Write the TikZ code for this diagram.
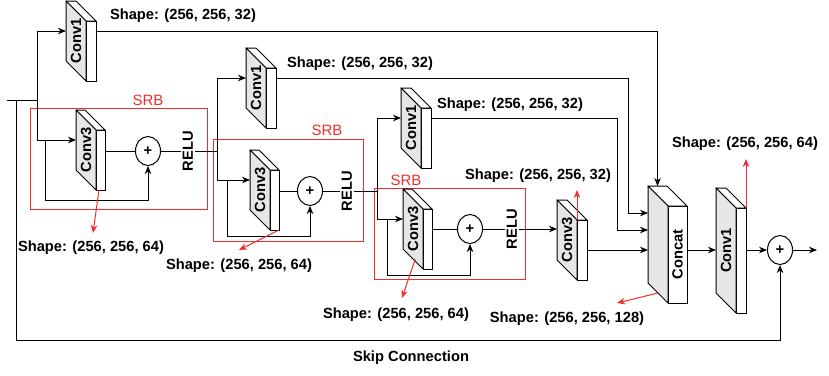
\documentclass[tikz,border=0pt]{standalone}
\usepackage{fontspec}
\setmainfont{Liberation Sans}
\usepackage{xcolor}
\usepackage{tikz}
\usetikzlibrary{arrows.meta, positioning, calc, shapes.geometric}

\definecolor{srbred}{RGB}{238,45,45}
\definecolor{facegray}{RGB}{230,230,230}

% 3d layer: #1 name, #2 back corner, #3 width, #4 height
\newcommand{\layerblock}[4]{%
  \node[backface, minimum width=#3, minimum height=#4] (#1-b) at #2 {};
  \node[frontface, minimum width=#3, minimum height=#4] (#1) at ($(#1-b.north west)+(20,20)$) {};
  \filldraw[topface] (#1-b.north west) -- (#1-b.north east) -- (#1.north east) -- (#1.north west) -- cycle;
  \filldraw[sideface] (#1-b.north west) -- (#1.north west) -- (#1.south west) -- (#1-b.south west) -- cycle;
  \coordinate (#1-side) at ($(#1-b.west)!0.5!(#1.west)$);
}

\begin{document}
\begin{tikzpicture}[x=1pt, y=-1pt,
    every node/.style={font=\fontsize{14.7}{17}\selectfont\bfseries},
    line/.style={line width=1pt},
    arr/.style={line, -{Stealth[length=8pt, width=6.5pt, inset=2.5pt]}},
    redarr/.style={arr, srbred},
    backface/.style={anchor=north west, inner sep=0pt, outer sep=0pt},
    frontface/.style={anchor=north west, draw, line width=1pt, fill=white, inner sep=0pt, outer sep=0pt},
    sideface/.style={line width=1pt, fill=facegray, line join=round},
    topface/.style={line width=1pt, fill=white, line join=round},
    layertext/.style={rotate=90, inner sep=0pt},
    plus/.style={ellipse, draw, line width=1pt, fill=white, minimum width=25pt, minimum height=29pt, inner sep=0pt},
    relu/.style={rotate=90, inner sep=1.5pt},
    shapelbl/.style={inner sep=1pt},
    srbbox/.style={draw=srbred, line width=1pt},
    srblbl/.style={text=srbred, font=\fontsize{15}{17}\selectfont}
]
\useasboundingbox (0,0) rectangle (829,375);

% residual blocks
\draw[srbbox] (30,108) rectangle (207,209);
\draw[srbbox] (213,139) rectangle (363,241);
\draw[srbbox] (374,188) rectangle (525,279);
\node[srblbl] (srb1) at (148,100) {SRB};
\node[srblbl] (srb2) at (327,130) {SRB};
\node[srblbl] (srb3) at (406,180) {SRB};

% layers
\layerblock{A}{(66,1)}{10}{60}
\layerblock{B}{(76,110)}{9}{60}
\layerblock{C1}{(246,48)}{10}{60}
\layerblock{C}{(250,150)}{9}{60}
\layerblock{D}{(401,88)}{10}{60}
\layerblock{E}{(403,189)}{9}{60}
\layerblock{F}{(557,200)}{10}{60}
\layerblock{Cc}{(648,186)}{19}{97}
\layerblock{G}{(716,188)}{10}{105}

\node[layertext] (A-t) at (A-side) {Conv1};
\node[layertext] (B-t) at (B-side) {Conv3};
\node[layertext] (C1-t) at (C1-side) {Conv1};
\node[layertext] (C-t) at (C-side) {Conv3};
\node[layertext] (D-t) at (D-side) {Conv1};
\node[layertext] (E-t) at (E-side) {Conv3};
\node[layertext] (F-t) at (F-side) {Conv3};
\node[layertext] (Cc-t) at (Cc.center) {Concat};
\node[layertext] (G-t) at (G-side) {Conv1};

% adders and activations
\node[plus] (P1) at (148,151) {+};
\node[plus] (P2) at (310,191) {+};
\node[plus] (P3) at (470,229) {+};
\node[plus] (P4) at (780,250) {+};
\node[relu] (R1) at (188,151) {RELU};
\node[relu] (R2) at (347,191) {RELU};
\node[relu] (R3) at (512,229) {RELU};

% branch points
\coordinate (in) at (7,100);
\coordinate (split) at (37,100);
\coordinate (skp) at (16,100);
\coordinate (b1) at (45,140);
\coordinate (j1) at (217,151);
\coordinate (b2) at (227,180);
\coordinate (j2) at (377,191);
\coordinate (b3) at (387,219);
\coordinate (k1) at (628,213);
\coordinate (k2) at (617,230);
\coordinate (out) at (817,250);

% first SRB
\draw[line] (in) -- (split);
\draw[arr] (split) |- (A-b.west);
\draw[arr] (split) |- (B-b.west);
\draw[arr] (b1) -- ++(0,60) -| (P1.south);
\draw[line] (B.east |- P1) -- (P1);
\draw[line] (P1) -- (R1);
\draw[line] (R1) -- (j1);

% second SRB
\draw[arr] (j1) |- (C1-b.west);
\draw[arr] (j1) |- (C-b.west);
\draw[arr] (b2) -- ++(0,56) -| (P2.south);
\draw[line] (C.east |- P2) -- (P2);
\draw[line] (P2) -- (R2);
\draw[line] (R2) -- (j2);

% third SRB
\draw[arr] (j2) |- (D-b.west);
\draw[arr] (j2) |- (E-b.west);
\draw[arr] (b3) -- ++(0,56) -| (P3.south);
\draw[line] (E.east |- P3) -- (P3);
\draw[line] (P3) -- (R3);
\draw[arr] (R3) -- (R3 -| F-b.west);

% into concat
\draw[arr] (A.east |- A-b) -| (Cc-b.north);
\draw[arr] (C1.east |- C1-b) -| (k1) -- (k1 -| Cc-b.west);
\draw[arr] (D.east |- D-b) -| (k2) -- (k2 -| Cc-b.west);
\draw[arr] (F.east) -- (F.east -| Cc-b.west);
\draw[arr] (Cc.east |- P4) -- (G-b.west |- P4);
\draw[arr] (G.east |- P4) -- (P4);
\draw[arr] (P4) -- (out);

% global skip
\draw[arr] (skp) -- ++(0,240) -| (P4.south);
\node (skiplbl) at (411,358) {Skip Connection};

% tensor shapes
\node[shapelbl] (lA) at (183,16) {Shape: (256, 256, 32)};
\node[shapelbl] (lC1) at (360,64) {Shape: (256, 256, 32)};
\node[shapelbl] (lD) at (510,105) {Shape: (256, 256, 32)};
\node[shapelbl] (lB) at (91,248) {Shape: (256, 256, 64)};
\node[shapelbl] (lC) at (239,266) {Shape: (256, 256, 64)};
\node[shapelbl] (lE) at (396,315) {Shape: (256, 256, 64)};
\node[shapelbl] (lF) at (538,176) {Shape: (256, 256, 32)};
\node[shapelbl] (lCc) at (567,319) {Shape: (256, 256, 128)};
\node[shapelbl] (lG) at (745,144) {Shape: (256, 256, 64)};

\coordinate (sB) at (93,233);
\coordinate (sC) at (239,250);
\coordinate (sE) at (402,298);
\coordinate (sF) at (577,190);
\coordinate (sCc) at (617,303);
\coordinate (sG) at (746,159);
\draw[redarr] ($(B.south west)+(3,0)$) -- (sB);
\draw[redarr] (C.south east) -- (sC);
\draw[redarr] ($(E-b.south)!0.5!(E.south west)$) -- (sE);
\draw[redarr] (F.north west) -- (sF);
\draw[redarr] ($(Cc-b.south west)!0.5!(Cc.south west)$) -- (sCc);
\draw[redarr] (G.north east) -- (sG);

\end{tikzpicture}
\end{document}
